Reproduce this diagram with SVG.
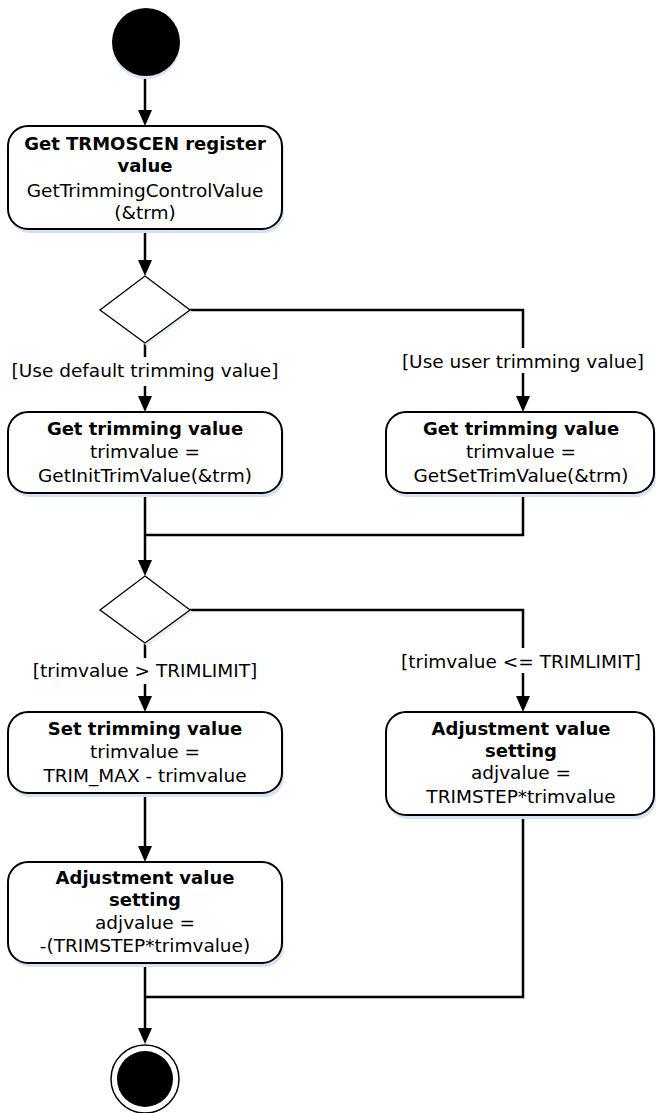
<svg xmlns="http://www.w3.org/2000/svg" width="656" height="1113" viewBox="0 0 656 1113">
<style>
.box{fill:#fff;stroke:#000;stroke-width:2}
.sh{fill:#d3e3f4}
.dia{fill:#fff;stroke:#000;stroke-width:1.3}
.con{fill:none;stroke:#000;stroke-width:2.5}
.t{font-family:"DejaVu Sans",Verdana,sans-serif;font-size:18.5px;fill:#000;text-anchor:middle}
.b{font-weight:bold;font-size:18px}
</style>
<defs>
<marker id="arr" viewBox="0 0 16 14" markerWidth="16" markerHeight="14" refX="12" refY="7" orient="auto" markerUnits="userSpaceOnUse">
<path d="M0,0 L16,7 L0,14 z" fill="#000"/>
</marker>
</defs>
<rect width="656" height="1113" fill="#fff"/>

<g id="connectors">
<path class="con" d="M145,76 V122" marker-end="url(#arr)"/>
<path class="con" d="M145,229 V272" marker-end="url(#arr)"/>
<path class="con" d="M145,343 V357"/>
<path class="con" d="M145,386 V408" marker-end="url(#arr)"/>
<path class="con" d="M190,310 H523 V348"/>
<path class="con" d="M523,373 V408" marker-end="url(#arr)"/>
<path class="con" d="M145,493 V572" marker-end="url(#arr)"/>
<path class="con" d="M523,493 V535 H145"/>
<path class="con" d="M145,643 V658"/>
<path class="con" d="M145,684 V708" marker-end="url(#arr)"/>
<path class="con" d="M190,610 H523 V648"/>
<path class="con" d="M523,673 V708" marker-end="url(#arr)"/>
<path class="con" d="M145,793 V858" marker-end="url(#arr)"/>
<path class="con" d="M145,963 V1040" marker-end="url(#arr)"/>
<path class="con" d="M523,815 V997 H145"/>
</g>

<g id="start">
<circle cx="146" cy="45" r="34" class="sh"/>
<circle cx="146" cy="42" r="34" fill="#000"/>
</g>

<g id="n1">
<rect x="10" y="130" width="274" height="103" rx="20" class="sh"/>
<rect x="8" y="126" width="274" height="103" rx="20" class="box"/>
<text class="t b" x="145" y="150">Get TRMOSCEN register</text>
<text class="t b" x="145" y="172">value</text>
<text class="t" x="145" y="197">GetTrimmingControlValue</text>
<text class="t" x="145" y="219">(&amp;trm)</text>
</g>

<g id="d1">
<polygon points="147,279 193,312 147,346 101,312" fill="#e4eef8"/>
<polygon points="145,276 190,310 145,343 100,310" class="dia"/>
</g>
<text class="t" x="145" y="377">[Use default trimming value]</text>
<text class="t" x="523" y="368">[Use user trimming value]</text>

<g id="n2l">
<rect x="10" y="416" width="274" height="81" rx="20" class="sh"/>
<rect x="8" y="412" width="274" height="81" rx="20" class="box"/>
<text class="t b" x="145" y="435">Get trimming value</text>
<text class="t" x="145" y="458">trimvalue =</text>
<text class="t" x="145" y="482">GetInitTrimValue(&amp;trm)</text>
</g>

<g id="n2r">
<rect x="388" y="416" width="268" height="81" rx="20" class="sh"/>
<rect x="386" y="412" width="268" height="81" rx="20" class="box"/>
<text class="t b" x="521" y="435">Get trimming value</text>
<text class="t" x="521" y="458">trimvalue =</text>
<text class="t" x="521" y="482">GetSetTrimValue(&amp;trm)</text>
</g>

<g id="d2">
<polygon points="147,579 193,612 147,646 101,612" fill="#e4eef8"/>
<polygon points="145,576 190,610 145,643 100,610" class="dia"/>
</g>
<text class="t" x="145" y="677">[trimvalue &gt; TRIMLIMIT]</text>
<text class="t" x="521" y="668">[trimvalue &lt;= TRIMLIMIT]</text>

<g id="n3l">
<rect x="10" y="716" width="274" height="81" rx="20" class="sh"/>
<rect x="8" y="712" width="274" height="81" rx="20" class="box"/>
<text class="t b" x="145" y="735">Set trimming value</text>
<text class="t" x="145" y="758">trimvalue =</text>
<text class="t" x="145" y="782">TRIM_MAX - trimvalue</text>
</g>

<g id="n3r">
<rect x="388" y="716" width="268" height="103" rx="20" class="sh"/>
<rect x="386" y="712" width="268" height="103" rx="20" class="box"/>
<text class="t b" x="521" y="735">Adjustment value</text>
<text class="t b" x="521" y="757">setting</text>
<text class="t" x="521" y="779">adjvalue =</text>
<text class="t" x="521" y="803">TRIMSTEP*trimvalue</text>
</g>

<g id="n4l">
<rect x="10" y="866" width="274" height="101" rx="20" class="sh"/>
<rect x="8" y="862" width="274" height="101" rx="20" class="box"/>
<text class="t b" x="145" y="884">Adjustment value</text>
<text class="t b" x="145" y="906">setting</text>
<text class="t" x="145" y="929">adjvalue =</text>
<text class="t" x="145" y="952">-(TRIMSTEP*trimvalue)</text>
</g>

<g id="end">
<circle cx="145" cy="1079" r="34" fill="#fff" stroke="#000" stroke-width="1.5"/>
<circle cx="145" cy="1079" r="28" fill="#000"/>
</g>
</svg>
